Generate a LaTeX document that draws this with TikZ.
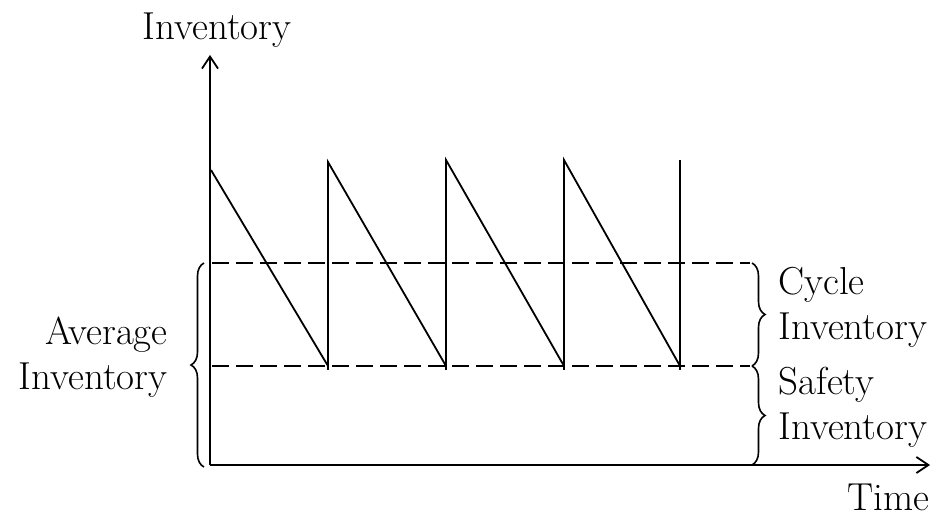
\documentclass[tikz,border=0pt]{standalone}
\usetikzlibrary{arrows.meta,decorations.pathreplacing}
\begin{document}
\begin{tikzpicture}[x=0.5pt,y=-0.5pt,
  axis/.style={line width=1pt,-{Straight Barb[length=6pt,width=8pt,line width=0.9pt]}},
  saw/.style={line width=0.9pt},
  dash line/.style={line width=1pt,dash pattern=on 8.5pt off 3.5pt},
  brc/.style={line width=0.8pt,decorate,decoration={brace,amplitude=6.5pt}},
  lbl/.style={font=\fontsize{19.5}{22}\selectfont,inner sep=0pt}]
\useasboundingbox (0,0) rectangle (938,517);
\coordinate (O) at (210,465);
\coordinate (Ytop) at (210,55);
\coordinate (Xend) at (930,465);
\draw[axis] (O) -- (Ytop);
\draw[axis] (O) -- (Xend);
\node[lbl,anchor=base] (ylab) at (217,40) {Inventory};
\node[lbl,anchor=base east] (xlab) at (930,511) {Time};
% sawtooth
\coordinate (p0) at (211,170);
\coordinate (b1) at (328,366); \coordinate (t1) at (328,370); \coordinate (p1) at (328,162);
\coordinate (b2) at (446,366); \coordinate (t2) at (446,370); \coordinate (p2) at (446,160);
\coordinate (b3) at (564,366); \coordinate (t3) at (564,370); \coordinate (p3) at (564,160);
\coordinate (b4) at (680,366); \coordinate (t4) at (680,370); \coordinate (p4) at (680,160);
\draw[saw] (p0) -- (b1);
\draw[saw] (t1) -- (p1) -- (b2);
\draw[saw] (t2) -- (p2) -- (b3);
\draw[saw] (t3) -- (p3) -- (b4);
\draw[saw] (t4) -- (p4);
% dashed levels
\coordinate (u0) at (212,263); \coordinate (u1) at (750,263);
\coordinate (l0) at (212,366); \coordinate (l1) at (750,366);
\draw[dash line] (u0) -- (u1);
\draw[dash line] (l0) -- (l1);
% braces
\coordinate (lb1) at (204,467); \coordinate (lb2) at (204,263);
\draw[brc] (lb1) -- (lb2);
\coordinate (rb1) at (752,263); \coordinate (rb2) at (752,366); \coordinate (rb3) at (752,465);
\draw[brc] (rb1) -- (rb2);
\draw[brc] (rb2) -- (rb3);
\node[lbl,anchor=base east] (avg1) at (168,345) {Average};
\node[lbl,anchor=base east] (avg2) at (168,390) {Inventory};
\node[lbl,anchor=base west] (cyc1) at (778,295) {Cycle};
\node[lbl,anchor=base west] (cyc2) at (778,340) {Inventory};
\node[lbl,anchor=base west] (saf1) at (778,395) {Safety};
\node[lbl,anchor=base west] (saf2) at (778,440) {Inventory};
\end{tikzpicture}
\end{document}
